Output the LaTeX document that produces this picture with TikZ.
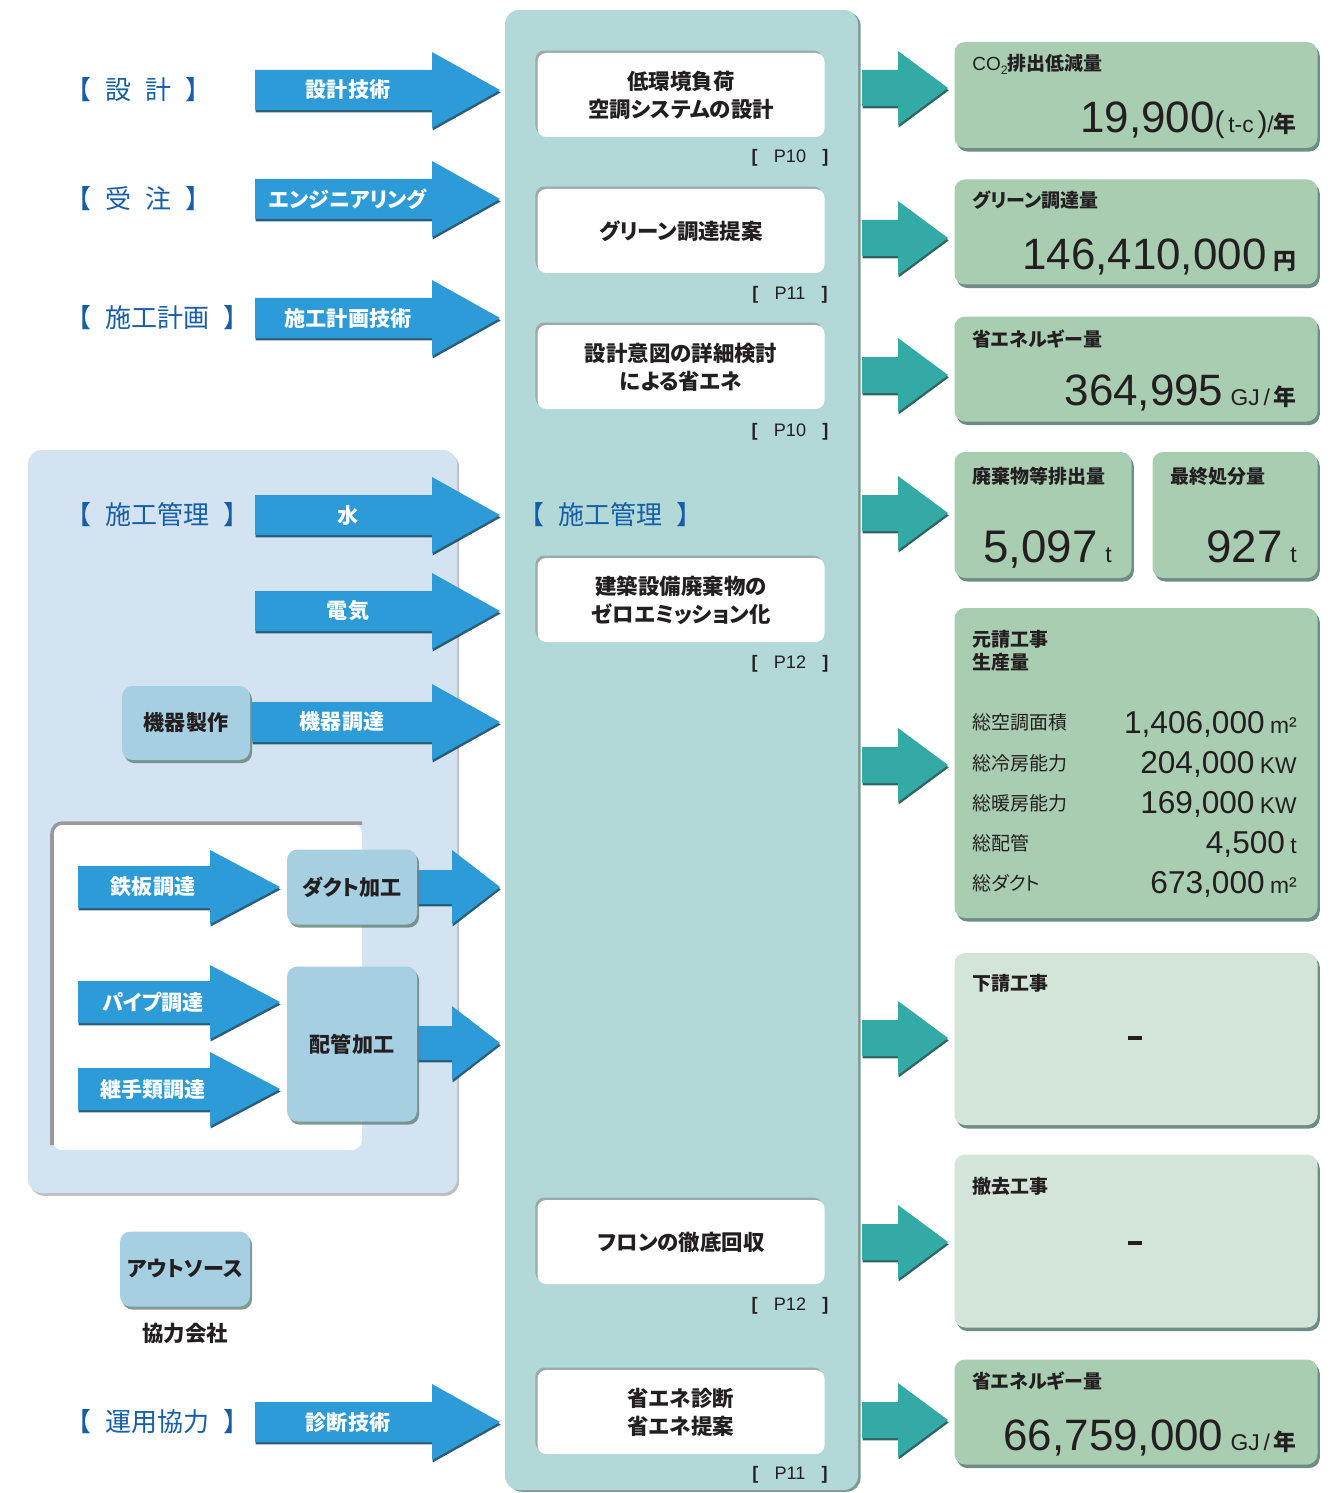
\documentclass[tikz,border=0pt]{standalone}
\usepackage{fontspec}
\setmainfont{Noto Sans CJK JP}[RawFeature=+palt]
\newfontfamily\numfont{Liberation Sans}
\usetikzlibrary{shadows}

\definecolor{colteal}{RGB}{178,216,216}
\definecolor{arrblue}{RGB}{44,155,215}
\definecolor{arrteal}{RGB}{52,170,166}
\definecolor{lblblue}{RGB}{22,94,166}
\definecolor{boxgreen}{RGB}{168,205,177}
\definecolor{palegreen}{RGB}{211,228,217}
\definecolor{panelblue}{RGB}{211,227,242}
\definecolor{machblue}{RGB}{166,207,225}
\definecolor{txtdark}{RGB}{35,31,32}
\definecolor{shadegray}{RGB}{96,128,120}

\tikzset{
  boxsize/.style 2 args={minimum width=#1*0.02cm, minimum height=#2*0.02cm},
  bluearr/.style={fill=arrblue, drop shadow={shadow xshift=0.4pt, shadow yshift=-1.4pt, fill=arrblue!50!black, opacity=.9}},
  tealarr/.style={fill=arrteal, drop shadow={shadow xshift=0.4pt, shadow yshift=-1.4pt, fill=arrteal!50!black, opacity=.9}},
  pics/blkarrow/.style n args={5}{code={
    \path[#5] (0,-#3) -- (#1,-#3) -- (#1,-#4) -- (#2,0) -- (#1,#4) -- (#1,#3) -- (0,#3) -- cycle;
  }},
  wbox/.style={fill=white, rounded corners=5pt, boxsize={287}{84}, align=center, text=txtdark,
    font=\bfseries\fontsize{12.2}{16}\selectfont,
    drop shadow={shadow xshift=-1.2pt, shadow yshift=1.4pt, fill=black!45, opacity=.6}},
  gbox/.style={fill=boxgreen, rounded corners=6pt, inner sep=0pt,
    drop shadow={shadow xshift=1.3pt, shadow yshift=-2pt, fill=shadegray, opacity=.9}},
  pbox/.style={gbox, fill=palegreen},
  mbox/.style={fill=machblue, rounded corners=6pt, text=txtdark, align=center,
    font=\bfseries\fontsize{12}{15}\selectfont,
    drop shadow={shadow xshift=1.2pt, shadow yshift=-1.8pt, fill=shadegray, opacity=.8}},
  sidelbl/.style={text=lblblue, inner sep=0pt, anchor=west, font=\fontsize{14.8}{17}\selectfont},
  arrlbl/.style={text=white, font=\bfseries\fontsize{12}{14}\selectfont},
  pageref/.style={text=txtdark, font=\numfont\fontsize{10.3}{12}\selectfont},
  headtxt/.style={text=txtdark, inner sep=0pt, anchor=base west, font=\bfseries\fontsize{10.8}{13}\selectfont},
  bignum/.style={text=txtdark, inner sep=0pt, anchor=base east, font=\numfont\fontsize{25}{28}\selectfont},
  rownum/.style={text=txtdark, inner sep=0pt, anchor=base east, font=\numfont\fontsize{18}{20}\selectfont},
  rowlbl/.style={text=txtdark, inner sep=0pt, anchor=base west, font=\fontsize{10.8}{12}\selectfont},
  dashmark/.style={inner sep=0pt, text=txtdark},
}
\newcommand\jpunit[1]{{\rmfamily\bfseries\fontsize{13}{14}\selectfont #1}}
\newcommand\smunit[1]{{\fontsize{13}{14}\selectfont #1}}
\newcommand\pg[1]{{\bfseries[}\hspace{0.9em}#1\hspace{0.9em}{\bfseries]}}
\newcommand\gap{\hspace{0.55em}}

\begin{document}
\begin{tikzpicture}[x=0.02cm,y=-0.02cm]
  \useasboundingbox[fill=white] (0,0) rectangle (1334,1493);
  % construction management panel
  \fill[panelblue, rounded corners=8pt, drop shadow={shadow xshift=1.2pt, shadow yshift=-1.6pt, fill=black!35, opacity=.7}] (28,450) rectangle (457,1193);
  \fill[white, rounded corners=6pt] (52,823) rectangle (362,1150);
  \draw[gray!80, line width=2pt, rounded corners=6pt] (52,1145) -- (52,823) -- (362,823);
  % central column
  \fill[colteal, rounded corners=8pt, drop shadow={shadow xshift=1.5pt, shadow yshift=-1pt, fill=shadegray, opacity=.8}] (505,10) rectangle (858,1490);

  % input arrows
  \foreach \y in {90,199,318,515,611,1422}
    \pic at (255,\y) {blkarrow={177}{245}{20}{38}{bluearr}};
  \pic at (252,722) {blkarrow={180}{248}{20}{38}{bluearr}};
  \foreach \y in {887,1002,1089}
    \pic at (78,\y) {blkarrow={132}{202}{21}{37}{bluearr}};
  \foreach \y in {887,1043}
    \pic at (417,\y) {blkarrow={35}{83}{17}{37}{bluearr}};
  % output arrows
  \foreach \y in {88,238,375,513,765,1038,1242,1420}
    \pic at (862,\y) {blkarrow={36}{86}{18}{37}{tealarr}};

  % side labels
  \node[sidelbl] (design) at (78,90) {【\gap 設\gap 計\gap 】};
  \node[sidelbl] (order) at (78,199) {【\gap 受\gap 注\gap 】};
  \node[sidelbl] (plan) at (78,318) {【\gap 施工計画\gap 】};
  \node[sidelbl] (manage) at (78,515) {【\gap 施工管理\gap 】};
  \node[sidelbl] (operate) at (78,1422) {【\gap 運用協力\gap 】};
  \node[sidelbl] (manage2) at (531,515) {【\gap 施工管理\gap 】};

  % arrow labels
  \node[arrlbl] (dtech) at (348,90) {設計技術};
  \node[arrlbl] (eng) at (348,199) {エンジニアリング};
  \node[arrlbl] (ptech) at (348,318) {施工計画技術};
  \node[arrlbl] (water) at (348,515) {水};
  \node[arrlbl] (elec) at (348,611) {電気};
  \node[arrlbl] (procure) at (342,722) {機器調達};
  \node[arrlbl] (steel) at (153,887) {鉄板調達};
  \node[arrlbl] (pipe) at (153,1002) {パイプ調達};
  \node[arrlbl] (joint) at (153,1089) {継手類調達};
  \node[arrlbl] (diag) at (348,1422) {診断技術};

  % fabrication boxes
  \node[mbox, boxsize={128}{74}] (mfab) at (186,723) {機器製作};
  \node[mbox, boxsize={130}{75}] (duct) at (352,887) {ダクト加工};
  \node[mbox, boxsize={130}{155}] (piping) at (352,1044) {配管加工};
  \node[mbox, boxsize={130}{75}] (outsrc) at (185,1269) {アウトソース};
  \node[text=txtdark, font=\bfseries\fontsize{12.2}{14}\selectfont] (partner) at (185,1333) {協力会社};

  % central items
  \node[wbox] (lowenv) at (681,95) {低環境負荷\\空調システムの設計};
  \node[pageref] (ref1) at (790,158) {\pg{P10}};
  \node[wbox] (green) at (681,231) {グリーン調達提案};
  \node[pageref] (ref2) at (790,295) {\pg{P11}};
  \node[wbox] (intent) at (681,367) {設計意図の詳細検討\\による省エネ};
  \node[pageref] (ref3) at (790,432) {\pg{P10}};
  \node[wbox] (zero) at (681,600) {建築設備廃棄物の\\ゼロエミッション化};
  \node[pageref] (ref4) at (790,664) {\pg{P12}};
  \node[wbox] (freon) at (681,1242) {フロンの徹底回収};
  \node[pageref] (ref5) at (790,1306) {\pg{P12}};
  \node[wbox] (audit) at (681,1412) {省エネ診断\\省エネ提案};
  \node[pageref] (ref6) at (790,1475) {\pg{P11}};

  % result boxes
  \node[gbox, boxsize={363}{106}] (co2) at (1136,95) {};
  \node[headtxt] (co2h) at (972,71) {{\numfont\mdseries CO}\raisebox{-.3ex}{\numfont\mdseries\fontsize{7}{8}\selectfont 2}排出低減量};
  \node[bignum] (co2v) at (1297,133) {19,900{\fontsize{17}{18}\selectfont(}\smunit{\,t-c\,}{\fontsize{17}{18}\selectfont)}\smunit{/}\jpunit{年}};
  \node[gbox, boxsize={363}{105}] (gproc) at (1136,232) {};
  \node[headtxt] (gproch) at (972,208) {グリーン調達量};
  \node[bignum] (gprocv) at (1297,270) {146,410,000\,\jpunit{円}};
  \node[gbox, boxsize={363}{105}] (esave) at (1136,369) {};
  \node[headtxt] (esaveh) at (972,346) {省エネルギー量};
  \node[bignum] (esavev) at (1297,405) {364,995\,\smunit{GJ\,/\,}\jpunit{年}};
  \node[gbox, boxsize={177}{126}] (waste) at (1043,515) {};
  \node[headtxt] (wasteh) at (972,483) {廃棄物等排出量};
  \node[bignum, font=\numfont\fontsize{26}{28}\selectfont] (wastev) at (1112,562) {5,097\,\smunit{t}};
  \node[gbox, boxsize={165}{126}] (final) at (1235,515) {};
  \node[headtxt] (finalh) at (1170,483) {最終処分量};
  \node[bignum, font=\numfont\fontsize{26}{28}\selectfont] (finalv) at (1297,562) {927\,\smunit{t}};
  \node[gbox, boxsize={363}{310}] (prod) at (1136,763) {};
  \node[headtxt, anchor=north west, align=left] (prodh) at (972,630) {元請工事\\生産量};
  \node[rowlbl] (r1) at (972,729) {総空調面積};
  \node[rownum] (v1) at (1297,733) {1,406,000\,\smunit{m²}};
  \node[rowlbl] (r2) at (972,770) {総冷房能力};
  \node[rownum] (v2) at (1297,773) {204,000\,\smunit{KW}};
  \node[rowlbl] (r3) at (972,810) {総暖房能力};
  \node[rownum] (v3) at (1297,813) {169,000\,\smunit{KW}};
  \node[rowlbl] (r4) at (972,850) {総配管};
  \node[rownum] (v4) at (1297,853) {4,500\,\smunit{t}};
  \node[rowlbl] (r5) at (972,890) {総ダクト};
  \node[rownum] (v5) at (1297,893) {673,000\,\smunit{m²}};
  \node[pbox, boxsize={363}{172}] (sub) at (1136,1039) {};
  \node[headtxt] (subh) at (972,990) {下請工事};
  \node[dashmark] (subv) at (1135,1038) {\rule{7.5pt}{2.3pt}};
  \node[pbox, boxsize={363}{173}] (demol) at (1136,1241) {};
  \node[headtxt] (demolh) at (972,1193) {撤去工事};
  \node[dashmark] (demolv) at (1135,1243) {\rule{7.5pt}{2.3pt}};
  \node[gbox, boxsize={363}{105}] (esave2) at (1136,1412) {};
  \node[headtxt] (esave2h) at (972,1388) {省エネルギー量};
  \node[bignum] (esave2v) at (1297,1450) {66,759,000\,\smunit{GJ\,/\,}\jpunit{年}};
\end{tikzpicture}
\end{document}
